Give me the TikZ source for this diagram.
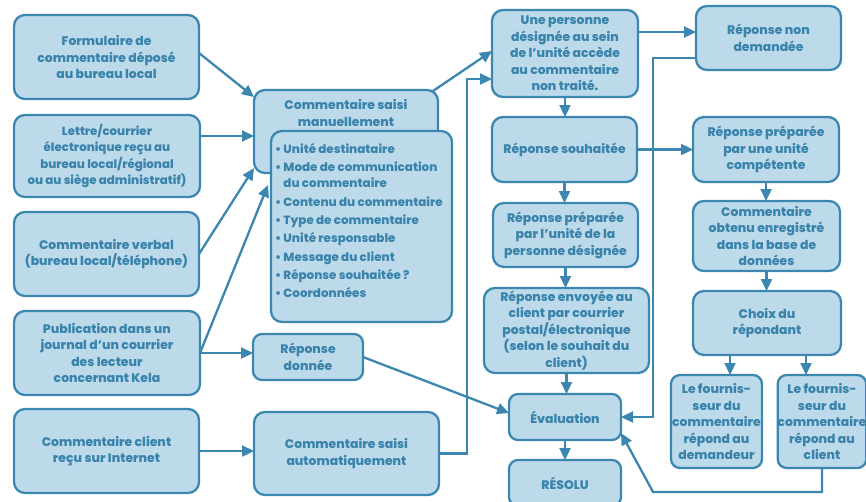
\documentclass[tikz,border=0pt]{standalone}
\usepackage{fontspec}
\newfontfamily\boxfont{Poppins ExtraBold}
\usetikzlibrary{arrows.meta}
\definecolor{boxfill}{HTML}{BDDAEB}
\definecolor{boxline}{HTML}{3C87B0}
\definecolor{boxtext}{HTML}{3A84AC}

% rounded box given by its corners (x1,y1) and (x2,y2)
\newcommand\mkbox[7][]{%
  \node[box,#1,minimum width={#5-#3},minimum height={#6-#4}] (#2)
    at ({(#3+#5)/2},{(#4+#6)/2}) {#7};}

\begin{document}
\begin{tikzpicture}[x=1pt,y=-1pt,
  txt/.style={inner sep=0pt, outer sep=0pt, align=center, text=boxtext,
    font=\boxfont\fontsize{12.4}{16.5}\selectfont},
  box/.style={txt, draw=boxline, fill=boxfill, line width=2.3pt, rounded corners=11pt},
  arr/.style={draw=boxline, line width=2.3pt, -{Triangle[length=12pt,width=11pt]}}
]
\useasboundingbox (0,0) rectangle (866,501);

% sources of feedback
\mkbox{f1}{14}{15}{199}{99}{Formulaire de\\commentaire déposé\\au bureau local}
\mkbox[font=\boxfont\fontsize{11.8}{16.5}\selectfont]{f2}{14}{115}{200}{197}{Lettre/courrier\\électronique reçu au\\bureau local/régional\\ou au siège administratif)}
\mkbox{f3}{14}{212}{199}{296}{Commentaire verbal\\(bureau local/téléphone)}
\mkbox{f4}{14}{311}{200}{395}{Publication dans un\\journal d’un courrier\\des lecteur\\concernant Kela}
\mkbox{f5}{14}{409}{199}{493}{Commentaire client\\reçu sur Internet}

% registration
\mkbox{m1}{254}{90}{438}{173}{}
\node[txt] (m1-t) at ([yshift=-23pt]m1.north) {Commentaire saisi\\manuellement};
\mkbox{m2}{271}{131}{452}{322}{}
\node[txt, align=left, anchor=west, font=\boxfont\fontsize{11.9}{16.3}\selectfont]
  (m2-t) at ([xshift=4pt,yshift=6pt]m2.west)
  {\textbullet\ Unité destinataire\\[2pt]
   \textbullet\ Mode de communication\\
   \phantom{\textbullet\ }du commentaire\\[2pt]
   \textbullet\ Contenu du commentaire\\[2pt]
   \textbullet\ Type de commentaire\\[2pt]
   \textbullet\ Unité responsable\\[2pt]
   \textbullet\ Message du client\\[2pt]
   \textbullet\ Réponse souhaitée ?\\[2pt]
   \textbullet\ Coordonnées};
\mkbox[rounded corners=9pt]{r1}{253}{334}{363}{380}{Réponse\\donnée}
\mkbox{a1}{254}{412}{439}{495}{Commentaire saisi\\automatiquement}

% handling
\mkbox{p1}{492}{10}{638}{97}{Une personne\\désignée au sein\\de l’unité accède\\au commentaire\\non traité.}
\mkbox{s1}{492}{117}{637}{182}{Réponse souhaitée}
\mkbox{u1}{493}{203}{638}{267}{Réponse préparée\\par l’unité de la\\personne désignée}
\mkbox{e1}{484}{288}{649}{373}{Réponse envoyée au\\client par courrier\\postal/électronique\\(selon le souhait du\\client)}
\mkbox[rounded corners=9pt]{ev}{509}{394}{621}{440}{Évaluation}
\mkbox[rounded corners=9pt]{rs}{509}{460}{621}{506}{RÉSOLU}

\mkbox{n1}{696}{6}{841}{70}{Réponse non\\demandée}
\mkbox{c1}{693}{117}{839}{182}{Réponse préparée\\par une unité\\compétente}
\mkbox{d1}{693}{201}{840}{271}{Commentaire\\obtenu enregistré\\dans la base de\\données}
\mkbox{ch}{693}{291}{841}{355}{Choix du\\répondant}
\mkbox[rounded corners=9pt]{l1}{671}{375}{762}{468}{Le fournis-\\seur du\\commentaire\\répond au\\demandeur}
\mkbox[rounded corners=9pt]{l2}{779}{375}{865}{468}{Le fournis-\\seur du\\commentaire\\répond au\\client}

% connectors
\draw[arr] ([yshift=4pt]f1.east) -- ([yshift=-7pt]m1.north west);
\draw[arr] ([yshift=20pt]f2.east) -- ([yshift=20pt]f2.east -| m1.west);
\draw[arr] (f3.east) -- ([yshift=5pt]m1.south west);
\draw[arr] (f4.east) -- ([xshift=-3pt,yshift=-54pt]m2.north west);
\draw[arr] (f4.east) -- (f4.east -| r1.west);
\draw[arr] (f5.east) -- (f5.east -| a1.west);
\draw[arr] (a1.east) -- ++(28,0) |- ([yshift=18pt]p1.south west);
\draw[arr] ([xshift=-5pt,yshift=-1pt]m1.north east) -- ([yshift=2.5pt]p1.west);
\draw[arr] ([yshift=-22pt]p1.north east) -- ([yshift=-22pt]p1.north east -| n1.west);
\draw[arr] (p1.south) -- (p1.south |- s1.north);
\draw[arr] (s1.east) -- (s1.east -| c1.west);
\draw[arr] (s1.south) -- (s1.south |- u1.north);
\draw[arr] (u1.south) -- (u1.south |- e1.north);
\draw[arr] (e1.south) -- (e1.south |- ev.north);
\draw[arr] (ev.south) -- (ev.south |- rs.north);
\draw[arr] ([yshift=-52pt]n1.north west) -- ++(-43,0) |- (ev.east);
\draw[arr] (r1.east) -- ([yshift=4pt]ev.west);
\draw[arr] (c1.south) -- (c1.south |- d1.north);
\draw[arr] (d1.south) -- (d1.south |- ch.north);
\draw[arr] ([xshift=-37pt]ch.south) -- ([xshift=-37pt]ch.south |- l1.north);
\draw[arr] ([xshift=39pt]ch.south) -- ([xshift=39pt]ch.south |- l2.north);
\draw[arr] (l2.south) -- ++(0,24) -- ++(-169,0) -- ([yshift=7pt]ev.south east);
\end{tikzpicture}
\end{document}
